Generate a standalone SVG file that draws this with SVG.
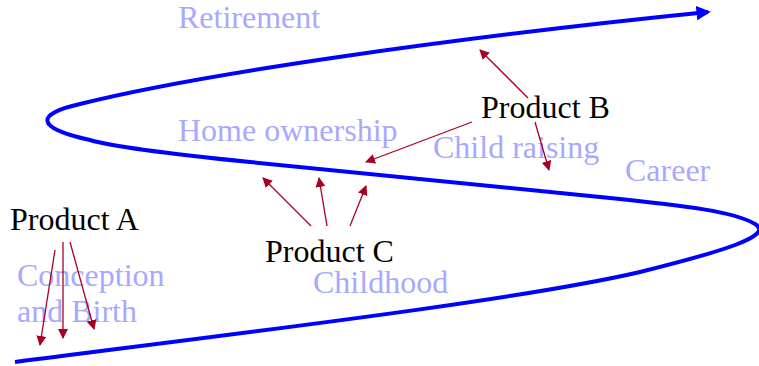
<svg xmlns="http://www.w3.org/2000/svg" width="759" height="366" viewBox="0 0 759 366">
<style>
.lbl{font-family:"Liberation Serif","Times New Roman",serif;font-size:32px;fill:#000}
.bg{font-family:"Liberation Serif","Times New Roman",serif;font-size:32px;fill:#a8a8ff}
.ar{stroke:#a80024;stroke-width:1.3;fill:none;marker-end:url(#ah)}
</style>
<defs>
<marker id="ah" viewBox="0 0 10 10" refX="9" refY="5" markerWidth="10" markerHeight="10" markerUnits="userSpaceOnUse" orient="auto">
<path d="M0,0 L10,5 L0,10 z" fill="#a80024"/>
</marker>
<marker id="bh" viewBox="0 0 10 10" refX="8" refY="5" markerWidth="3.6" markerHeight="3.6" orient="auto">
<path d="M0,0 L10,5 L0,10 z" fill="#0000ff"/>
</marker>
</defs>
<g id="labels">
<text class="bg" x="178" y="28">Retirement</text>
<text class="bg" x="178" y="141">Home ownership</text>
<text class="bg" x="433" y="158">Child raising</text>
<text class="bg" x="625" y="181">Career</text>
<text class="bg" x="17" y="286">Conception</text>
<text class="bg" x="17" y="322">and Birth</text>
<text class="bg" x="313" y="293">Childhood</text>
</g>
<g id="lifeline">
<path d="M15,362 C250,332 520,300 640,272 C720,252 775,236 755,224 C735,212 690,206 600,197 L250,162 C150,152 110,146 90,140 C35,128 35,114 80,104 C200,74 450,38 708,12" stroke="#0000ff" stroke-width="4" fill="none" marker-end="url(#bh)"/>
</g>
<g id="productA">
<text class="lbl" x="10" y="230">Product A</text>
</g>
<g id="productB">
<text class="lbl" x="481" y="118">Product B</text>
</g>
<g id="productC">
<text class="lbl" x="265" y="262">Product C</text>
</g>
<g id="connectors">
<line class="ar" x1="55" y1="250" x2="40" y2="345"/>
<line class="ar" x1="63" y1="242" x2="63" y2="338"/>
<line class="ar" x1="70" y1="242" x2="94" y2="329"/>
<line class="ar" x1="311" y1="226" x2="263" y2="178"/>
<line class="ar" x1="327" y1="226" x2="319" y2="178"/>
<line class="ar" x1="350" y1="226" x2="366" y2="186"/>
<line class="ar" x1="528" y1="98" x2="480" y2="50"/>
<line class="ar" x1="535" y1="122" x2="549" y2="170"/>
<line class="ar" x1="472" y1="122" x2="366" y2="162"/>
</g>
</svg>
